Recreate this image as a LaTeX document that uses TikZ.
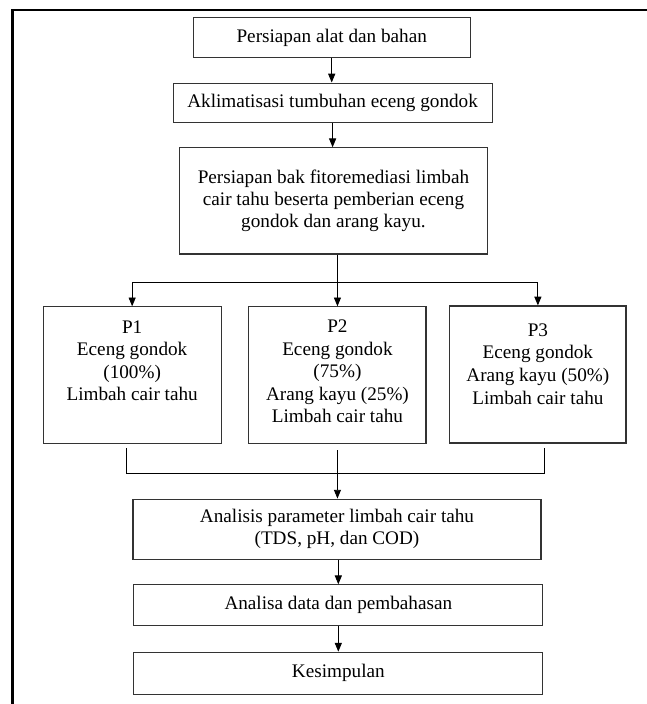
\documentclass[tikz,border=0pt]{standalone}
\usepackage{fontspec}
\setmainfont{Liberation Serif}
\usepackage{tikz}
\usetikzlibrary{arrows.meta,positioning,calc}
\definecolor{boxline}{HTML}{333333}

\begin{document}
\begin{tikzpicture}[
  x=1cm,y=1cm,
  box/.style={draw=boxline,line width=0.7pt,align=center,inner sep=0pt,
    font=\fontsize{12.4}{14.4}\selectfont},
  ptext/.style={align=center,inner sep=0pt,font=\fontsize{12.4}{14.6}\selectfont},
  flow/.style={-{Triangle[length=2mm,width=1.6mm]},line width=0.6pt},
  link/.style={line width=0.6pt},
  frame/.style={line width=1.8pt}
]
\useasboundingbox (0,0) rectangle (14.687,15.981);
% outer frame (only left and top edges visible)
\draw[frame] (0.288,0) -- (0.288,15.754) -- (14.687,15.754);

% preparation steps
\node[box,minimum width=6.29cm,minimum height=0.89cm] (prep) at (7.53,15.13)
  {Persiapan alat dan bahan};
\node[box,minimum width=7.24cm,minimum height=0.89cm] (aklim) at (7.55,13.65)
  {Aklimatisasi tumbuhan eceng gondok};
\node[box,minimum width=7.01cm,minimum height=2.41cm] (bak) at (7.57,11.42)
  {Persiapan bak fitoremediasi limbah\\cair tahu beserta pemberian eceng\\gondok dan arang kayu.};
\draw[flow] (prep.south) -- (prep.south |- aklim.north);
\draw[flow] (aklim.south) -- (aklim.south |- bak.north);

% treatments P1--P3
\node[box,minimum width=4.04cm,minimum height=3.11cm] (p1) at (3.00,7.46) {};
\node[box,minimum width=4.02cm,minimum height=3.11cm] (p2) at (7.66,7.46) {};
\node[box,minimum width=4.00cm,minimum height=3.11cm] (p3) at (12.21,7.48) {};
\node[ptext] (t1) at (3.00,7.79) {P1\\Eceng gondok\\(100\%)\\Limbah cair tahu};
\node[ptext] (t2) at (7.66,7.55) {P2\\Eceng gondok\\(75\%)\\Arang kayu (25\%)\\Limbah cair tahu};
\node[ptext] (t3) at (12.21,7.72) {P3\\Eceng gondok\\Arang kayu (50\%)\\Limbah cair tahu};
\coordinate (split) at (7.66,9.56);
\draw[link] (bak.south -| split) -- (split);
\draw[flow] (split) -- (p2.north);
\draw[flow] (split) -| (p1.north);
\draw[flow] (split) -| (p3.north);

% merge into analysis
\coordinate (m1) at (2.88,5.81);
\coordinate (m2) at (7.66,5.76);
\coordinate (m3) at (12.37,5.81);
\coordinate (j1) at (2.88,5.24);
\coordinate (j3) at (12.37,5.24);
\draw[link] (m1) -- (j1) -- (j3) -- (m3);
\node[box,minimum width=9.26cm,minimum height=1.36cm] (anal) at (7.65,3.97)
  {Analisis parameter limbah cair tahu\\(TDS, pH, dan COD)};
\node[box,minimum width=9.28cm,minimum height=0.93cm] (data) at (7.68,2.24)
  {Analisa data dan pembahasan};
\node[box,minimum width=9.28cm,minimum height=0.95cm] (kes) at (7.68,0.70)
  {Kesimpulan};
\draw[flow] (m2) -- (m2 |- anal.north);
\draw[flow] (data.north |- anal.south) -- (data.north);
\draw[flow] (data.south) -- (kes.north);
\end{tikzpicture}
\end{document}
